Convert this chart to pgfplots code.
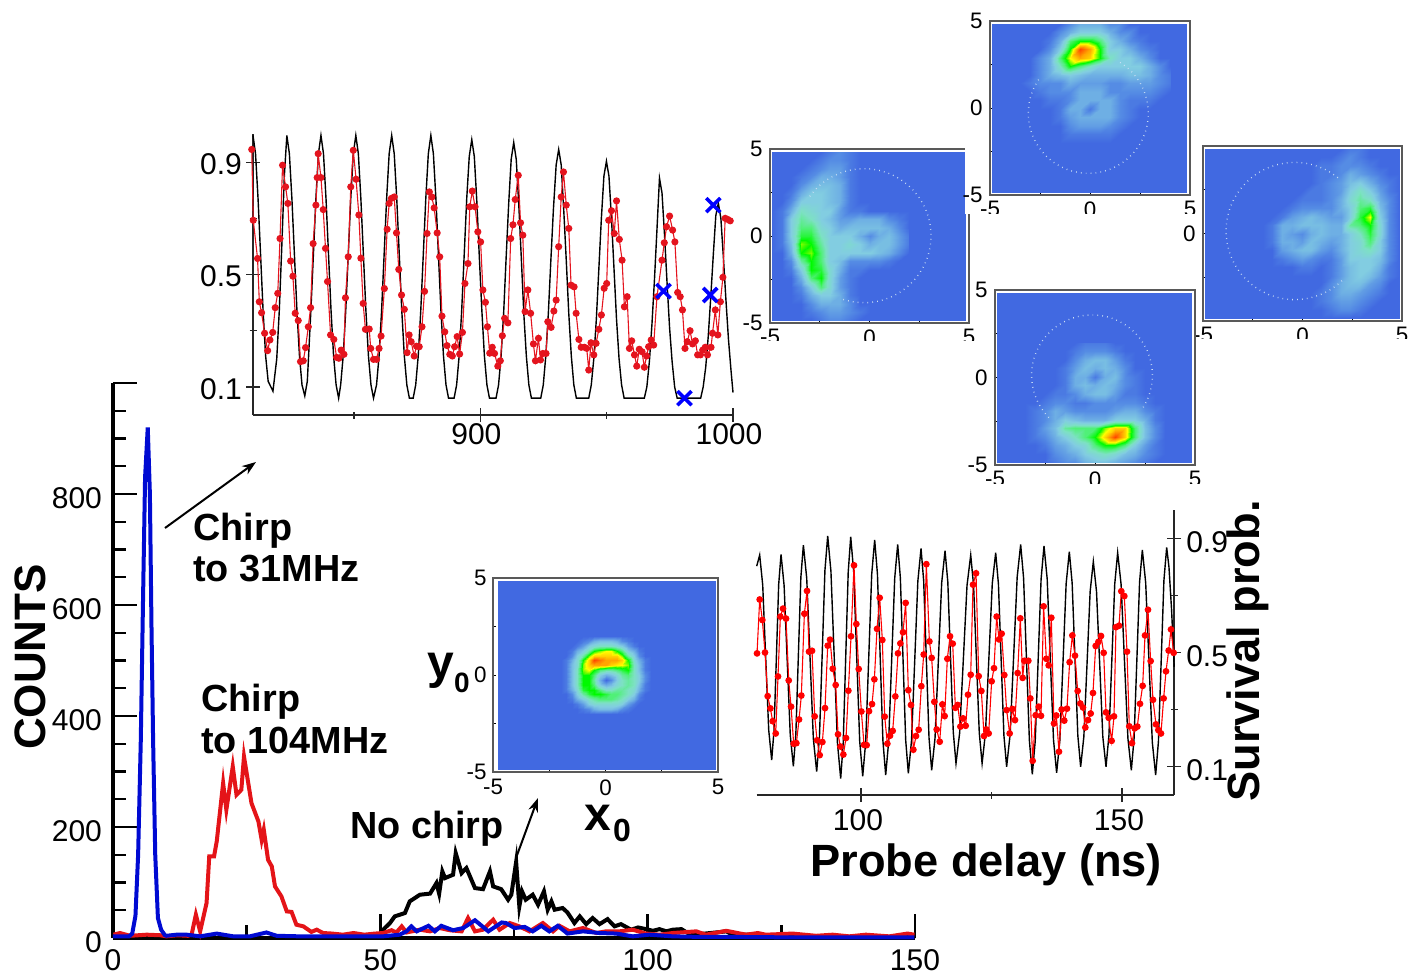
\documentclass[border=0pt]{standalone}
\usepackage{fontspec}
\setmainfont{Liberation Sans}
\usepackage{pgfplots}
\pgfplotsset{compat=1.18}
\usetikzlibrary{arrows.meta}
\definecolor{royal}{RGB}{65,105,225}
\definecolor{histred}{RGB}{228,20,24}
\definecolor{histblue}{RGB}{0,10,210}
\definecolor{dotred}{RGB}{228,20,30}
\definecolor{dotwhite}{RGB}{205,225,245}
\newcommand{\TXT}[4][]{\node[inner sep=0pt,#1] at (#2*0.5pt,-#3*0.5pt) {#4};}
\newcommand{\fs}[1]{\fontsize{#1}{#1}\selectfont}
\pgfplotsset{
  heatmap/.style={
    scale only axis, clip=true,
    xmin=-5,xmax=5,ymin=-5,ymax=5,
    xtick={-5,-2.5,0,2.5,5}, xticklabels={-5,,0,,5},
    ytick={-5,-2.5,0,2.5,5}, yticklabels={-5,,0,,5},
    xtick pos=left, ytick pos=left, tick align=inside,
    major tick length=1.6pt,
    tick style={black,line width=.4pt},
    axis line style={black!65,line width=.8pt},
    ticklabel style={font=\fs{11.2},inner sep=1.5pt},
    xticklabel style={yshift=-1.5pt},yticklabel style={xshift=-2pt},
    point meta min=0, point meta max=9,
    colormap={heat}{
      rgb255(0)=(65,105,225) rgb255(1)=(85,140,228) rgb255(2)=(110,175,228)
      rgb255(3)=(130,205,225) rgb255(4)=(125,225,195) rgb255(5)=(80,240,120)
      rgb255(6)=(0,250,0) rgb255(7)=(255,255,0) rgb255(8)=(255,165,0) rgb255(9)=(255,69,0)},
  },
  heatplot/.style={surf, shader=interp, point meta=explicit},
  linechart/.style={
    scale only axis, clip=false,
    tick style={black!85,line width=.6pt},
    tick align=inside,
    major tick length=7pt, minor tick length=3.5pt,
    ticklabel style={font=\fs{15}},
    ymin=0,ymax=1,
    ytick={0.1,0.5,0.9}, yticklabels={0.1,0.5,0.9}, minor ytick={0.3,0.7},
  },
  blackcurve/.style={black,line width=.7pt,no markers},
  redcurve/.style={dotred,line width=.55pt,mark=*,mark size=1.5pt,mark options={fill=dotred,draw=dotred}},
}
\begin{document}
\begin{tikzpicture}
\path[use as bounding box] (0,0) rectangle (712.5pt,-488pt);

%% ---------- main histogram ----------
\begin{axis}[at={(113*0.5pt,-938*0.5pt)},anchor=south west,scale only axis,clip=false,
  width=401pt,height=277.5pt,xmin=0,xmax=150,ymin=0,ymax=1000,
  axis x line=bottom,axis y line=left,
  axis line style={-,black,line width=1.75pt},
  tick style={black,line width=1.2pt},tick align=inside,
  major tick length=12pt,minor tick length=6.5pt,
  xtick={0,50,100,150},xticklabels={0,50,100,150},minor xtick={25,75,125},
  ytick={0,200,400,600,800,1000},yticklabels={0,200,400,600,800,},
  minor ytick={50,100,150,250,300,350,450,500,550,650,700,750,850,900,950},
  ticklabel style={font=\fs{15}},
  xticklabel style={yshift=-2pt},yticklabel style={xshift=-2pt,yshift=-2pt}]
\addplot[black,line width=2pt,no markers] coordinates {
(50,10)(51.8,27)(52.7,39)(54.6,45)(55.5,66)(57.4,78)(59.3,80)(60.5,99)(61,80)(61.6,120)(62.1,108)(63.6,114)(64.1,153)(65.2,117)(66.1,126)(67.7,90)(69.2,88)(70.5,120)(71.1,93)(72.6,88)(73.9,69)(74.5,78)(75.4,137)(76,57)(76.5,84)(77.2,69)(78.5,78)(79.5,60)(80.6,84)(81.3,51)(82,66)(82.6,51)(84.1,54)(85,46)(86.3,27)(87.3,39)(88.5,25)(89.7,36)(91,25)(92.5,34)(93.8,21)(95,25)(96.9,15)(98.2,19)(99.7,16)(101,13)(102.2,16)(103.5,12)(104.7,15)(106.3,16)(107.5,9)(109.7,7)(112.8,10)(114.7,12)(115.9,6)(119,6)(122.1,3)(130,2)(140,2)(150,2)};
\addplot[histred,line width=2pt,no markers] coordinates {
(0.1,6)(1.3,9)(3.2,4)(6.3,6)(8.8,5)(10,3)(12,5)(14,4)(14.7,6)(15.5,42)(16.3,12)(17.5,63)(18,147)(18.9,147)(19.4,174)(20.6,279)(21.2,231)(22.4,309)(23.1,258)(24,267)(24.5,327)(25.9,243)(27.2,210)(27.8,177)(28.2,195)(29,141)(29.7,129)(30.3,93)(31.5,75)(32.5,48)(33.4,47)(34.3,24)(35.6,21)(37.1,11)(38.1,15)(39.3,9)(41,8)(43,6)(45,9)(47,6)(49,8)(50.5,9)(52.1,14)(53,10)(54,21)(54.9,10)(57.4,15)(59.3,12)(61.1,18)(63,14)(65.2,12)(66.4,36)(67.7,12)(69.2,15)(71.1,33)(72.3,15)(74.2,27)(76,21)(77.9,12)(80.4,27)(82.3,12)(83.5,22)(85.4,12)(87.9,18)(90.4,9)(92.2,12)(94.7,12)(97.2,15)(99.7,8)(102.2,6)(104.7,9)(109.1,12)(110.9,6)(114.7,13)(118.4,6)(120.6,9)(122.1,6)(127.1,8)(131.5,4)(134.6,6)(137.7,3)(140.8,6)(145.2,3)(148.6,8)(149.9,6)};
\addplot[histblue,line width=2pt,no markers] coordinates {
(0,3)(1,3)(2,3)(3,3)(3.6,8)(4.2,40)(4.7,150)(5.2,357)(5.6,600)(6,830)(6.5,920)(6.9,800)(7.2,560)(7.5,357)(7.9,150)(8.4,36)(9,15)(9.7,5)(10,4)(11.9,6)(13.8,6)(16.3,3)(19.4,8)(22.5,3)(25.6,3)(28.7,10)(30.6,4)(35,3)(41.2,3)(47.4,3)(50.5,3)(53.6,6)(54.9,12)(55.8,21)(56.8,12)(59,22)(60.2,12)(61.4,22)(63.6,14)(65.5,18)(67.7,32)(70.2,12)(72.7,28)(73.5,27)(75.1,18)(77,20)(78.5,12)(80.1,22)(81.6,12)(83.2,22)(85,8)(87.9,12)(91,9)(94.1,8)(97.2,3)(100.3,6)(104.7,3)(109.7,2)(115.9,2)(128.4,1)(149.9,1)};
\end{axis}

%% ---------- upper line chart ----------
\begin{axis}[linechart,at={(253*0.5pt,-415*0.5pt)},anchor=south west,width=240pt,height=140.5pt,
  xmin=810,xmax=1000,axis x line=bottom,axis y line=left,
  axis line style={-,black!85,line width=.8pt},
  xtick={900,1000},xticklabels={900,1000},minor xtick={850,950},
  xticklabel style={xshift=-2pt,yshift=3pt},yticklabel style={xshift=1.5pt,yshift=-1pt}]
\addplot[blackcurve] coordinates {
(810,.995)(811,.93)(812,.77)(813,.57)(814,.37)(815,.21)(816,.12)(817.9,.085)(819.4,.2)(820.4,.37)(821.4,.6)(822.4,.85)(823.4,.995)
(824.4,.93)(825.4,.77)(826.4,.57)(827.4,.37)(828.4,.21)(829.4,.107)(830.5,.068)(831.5,.12)(832.9,.37)(833.9,.57)(834.9,.77)(835.9,.93)(836.9,.995)
(837.9,.93)(838.9,.77)(839.9,.57)(840.9,.37)(841.9,.21)(842.9,.107)(843.9,.06)(844.7,.107)(845.7,.21)(846.7,.37)(847.7,.57)(848.7,.77)(849.7,.93)(850.7,.995)
(851.7,.93)(852.7,.77)(853.7,.57)(854.7,.37)(855.7,.21)(856.7,.107)(857.7,.06)(858.9,.107)(859.9,.21)(860.9,.37)(861.9,.57)(862.9,.77)(863.9,.93)(864.9,.995)
(865.9,.93)(866.9,.77)(867.9,.57)(868.9,.37)(869.9,.21)(870.9,.107)(871.9,.06)(873.4,.06)(874.4,.107)(875.4,.21)(876.4,.37)(877.4,.57)(878.4,.77)(879.4,.93)(880.4,.995)
(881.4,.93)(882.4,.77)(883.4,.57)(884.4,.37)(885.4,.21)(886.4,.107)(887.4,.06)(889.6,.06)(890.6,.107)(891.6,.21)(892.6,.37)(893.6,.57)(894.6,.77)(895.6,.92)(896.6,.98)
(897.6,.92)(898.6,.76)(899.6,.56)(900.6,.37)(901.6,.21)(902.6,.107)(903.6,.06)(906.2,.06)(907.2,.107)(908.2,.21)(909.2,.36)(910.2,.56)(911.2,.75)(912.2,.91)(913.2,.97)
(914.2,.91)(915.2,.75)(916.2,.56)(917.2,.36)(918.2,.21)(919.2,.107)(920.2,.06)(923.9,.06)(924.9,.107)(925.9,.21)(926.9,.36)(927.9,.55)(928.9,.73)(930,.89)(931,.945)
(932,.89)(933,.73)(934,.55)(935,.36)(936,.21)(937,.107)(938,.06)(942.9,.06)(943.9,.107)(944.9,.2)(945.9,.34)(946.9,.52)(947.9,.7)(948.9,.85)(949.9,.903)
(950.9,.85)(951.9,.7)(952.9,.52)(953.9,.34)(954.9,.2)(955.9,.107)(956.9,.06)(964.9,.06)(965.9,.1)(966.9,.19)(967.9,.32)(968.9,.48)(969.9,.66)(970.9,.843)
(971.9,.79)(972.9,.64)(973.9,.47)(974.9,.31)(975.9,.19)(976.9,.1)(977.9,.06)(987.2,.06)(988.2,.1)(989.2,.17)(990.2,.28)(991.2,.42)(992.2,.57)(993.2,.71)(994.2,.754)
(995.2,.7)(996.2,.56)(997.2,.41)(998.2,.27)(999.2,.16)(1000,.08)};
\addplot[redcurve] coordinates {
(809.5,.945)(810.1,.693)(811.8,.557)(812.5,.403)(813.4,.364)(814.6,.291)(815.8,.229)(816.7,.267)(817.8,.294)(818.8,.382)(819.8,.433)(820.7,.628)(821.7,.889)(822.9,.812)(823.8,.753)(824.9,.548)(825.8,.494)(826.7,.362)(827.9,.336)(828.8,.19)(829.9,.193)(830.8,.24)(831.9,.314)(832.8,.382)(833.8,.61)(834.9,.747)(835.4,.845)(835.8,.93)(836.9,.845)(837.8,.731)(838.7,.593)(839.5,.475)(840.7,.285)(842,.269)(843.1,.205)(844,.202)(844.9,.231)(846,.216)(846.6,.417)(847.7,.563)(848.7,.812)(849.7,.942)(850.8,.839)(851.9,.712)(852.7,.558)(853.6,.397)(854.5,.305)(856,.306)(856.6,.237)(857.7,.198)(858.9,.198)(859.9,.237)(860.7,.281)(862,.45)(863.1,.661)(863.9,.753)(864.8,.771)(865.9,.776)(866.8,.648)(867.7,.518)(868.8,.427)(869.9,.376)(871,.222)(871.8,.285)(872.6,.261)(873.8,.21)(874.7,.245)(875.8,.243)(876.9,.314)(877.9,.44)(878.9,.646)(879.8,.794)(880.8,.776)(881.7,.737)(882.9,.648)(883.9,.563)(884.8,.352)(885.9,.296)(886.8,.247)(887.9,.216)(888.9,.21)(889.8,.243)(890.8,.279)(891.8,.217)(892.9,.294)(893.9,.468)(895.1,.539)(895.8,.741)(896.8,.797)(897.9,.741)(899,.652)(900.1,.616)(901,.445)(902,.401)(902.8,.314)(903.7,.22)
(904.7,.241)(905.6,.219)(906.9,.174)(907.9,.193)(908.7,.282)(909.6,.344)(910.9,.328)(912,.628)(912.9,.677)(913.8,.767)(915,.853)(915.9,.684)(916.8,.64)(917.7,.368)(918.8,.445)(919.9,.362)(921,.253)(921.8,.193)(923,.273)(923.8,.196)(924.7,.219)(926,.219)(926.7,.332)(928,.312)(929.1,.37)(930,.409)(931,.599)(932,.776)(932.9,.865)(934,.747)(935,.664)(935.9,.462)(937.1,.456)(937.9,.362)(939,.269)(939.9,.241)(941.2,.241)(942.1,.237)(942.9,.16)(943.8,.257)(944.9,.214)(945.8,.255)(946.9,.305)(947.9,.356)(949,.451)(950,.468)(950.8,.693)(951.9,.727)(953,.646)(953.9,.762)(955,.625)(956.1,.551)(957,.385)(958.1,.421)(959,.237)(959.9,.264)(961,.214)(961.9,.174)(962.9,.234)(964,.225)(964.9,.17)(965.8,.21)(966.6,.243)(967.6,.267)(968.6,.249)(969.9,.421)(971.9,.551)(972.8,.613)(973.7,.67)(974.9,.708)(976.1,.658)(977,.616)(978.1,.436)(979.1,.421)(980,.374)(981,.237)(981.9,.261)(983,.3)(984,.253)(985.1,.264)(986,.214)(987.1,.214)(988,.231)(989,.241)(989.9,.214)(991.3,.241)(991.9,.291)(993,.374)(994,.285)(995,.403)(996,.49)(996.9,.7)(997.9,.696)(998.9,.691)};
\addplot[only marks,mark=x,mark size=5pt,color=blue,mark options={line width=1.8pt}] coordinates {(992.2,.747)(972.5,.441)(991,.427)(980.8,.06)};
\end{axis}

%% ---------- lower line chart ----------
\begin{axis}[linechart,at={(756.6*0.5pt,-795*0.5pt)},anchor=south west,width=208.8pt,height=142.5pt,
  xmin=80,xmax=160,axis x line=bottom,axis y line=right,
  axis line style={-,black!85,line width=.8pt},
  xtick={100,150},xticklabels={100,150},minor xtick={125},
  xticklabel style={xshift=-1.5pt},yticklabel style={xshift=-1pt,yshift=-2pt}]
\addplot[blackcurve] coordinates {
(80.02,.803)(80.59,.842)(81.17,.737)(81.74,.482)(82.32,.228)(82.89,.1225)(83.34,.228)(83.79,.483)(84.23,.739)(84.68,.844)(85.27,.735)(85.86,.4725)(86.45,.21)(87.04,.101)(87.52,.214)(88,.489)(88.48,.764)(88.96,.877)(89.6,.761)(90.24,.48)(90.87,.198)(91.51,.082)(92.04,.203)(92.57,.496)(93.09,.788)(93.62,.909)(94.24,.785)(94.87,.484)(95.49,.182)(96.11,.058)(96.59,.182)(97.07,.482)(97.55,.782)(98.03,.906)(98.6,.783)(99.18,.486)(99.75,.189)(100.33,.066)(100.9,.187)(101.48,.48)(102.05,.774)(102.62,.895)(103.15,.775)(103.68,.482)(104.2,.19)(104.73,.07)(105.3,.188)(105.88,.475)(106.46,.761)(107.03,.879)(107.54,.762)(108.05,.478)(108.56,.193)(109.07,.076)(109.68,.191)(110.29,.47)(110.89,.75)(111.5,.865)(112.01,.751)(112.52,.476)(113.03,.201)(113.54,.087)(114.18,.199)(114.82,.472)(115.46,.745)(116.1,.857)(116.63,.748)(117.15,.484)(117.68,.22)(118.2,.111)(118.9,.218)(119.61,.477)(120.31,.735)(121.02,.842)(121.57,.735)(122.11,.477)(122.66,.218)(123.2,.111)(123.85,.219)(124.5,.48)(125.15,.742)(125.8,.85)(126.33,.74)(126.85,.475)(127.38,.209)(127.9,.099)(128.57,.213)(129.25,.489)(129.92,.765)(130.59,.879)(131.15,.761)(131.7,.476)(132.26,.191)(132.82,.073)(133.38,.19)(133.94,.474)(134.5,.757)(135.06,.874)(135.67,.758)(136.27,.476)(136.88,.194)(137.48,.078)(138.09,.191)(138.7,.466)(139.3,.741)(139.91,.854)(140.45,.744)(141,.477)(141.54,.209)(142.08,.099)(142.69,.204)(143.3,.459)(143.9,.714)(144.51,.819)(145.12,.714)(145.73,.459)(146.33,.204)(146.94,.099)(147.5,.209)(148.06,.475)(148.61,.74)(149.17,.85)(149.83,.739)(150.48,.469)(151.14,.198)(151.79,.087)(152.32,.2)(152.85,.474)(153.37,.747)(153.9,.86)(154.54,.745)(155.18,.465)(155.81,.185)(156.45,.07)(156.98,.187)(157.51,.47)(158.03,.752)(158.56,.869)(159,.8)(159.5,.65)(160,.45)};
\addplot[redcurve,mark size=1.4pt,color=red,mark options={fill=red,draw=red}] coordinates {
(80.08,.497)(80.59,.686)(81.1,.614)(81.61,.5)(82.12,.347)(82.64,.304)(83.08,.259)(83.66,.216)(84.1,.416)(84.55,.626)(85.06,.654)(85.64,.619)(86.15,.402)(86.6,.31)(87.1,.18)(87.62,.182)(88.13,.265)(88.57,.349)(89.15,.636)(89.66,.716)(90.04,.503)(90.62,.506)(91.13,.276)(91.58,.192)(92.09,.14)(92.6,.186)(93.11,.305)(93.62,.524)(94.07,.545)(94.58,.443)(95.15,.386)(95.6,.213)(96.05,.17)(96.62,.142)(97.13,.2)(97.58,.366)(98.09,.557)(98.66,.806)(99.11,.6)(99.56,.442)(100.07,.293)(100.58,.176)(101.09,.175)(101.54,.294)(102.11,.319)(102.56,.406)(103.07,.583)(103.58,.692)(104.09,.544)(104.54,.275)(105.05,.18)(105.56,.208)(106.07,.225)(106.58,.346)(107.09,.497)(107.54,.532)(108.05,.571)(108.56,.674)(109.07,.368)(109.58,.316)(110.03,.159)(110.54,.207)(111.05,.229)(111.56,.382)(112.01,.493)(112.52,.81)(113.1,.539)(113.54,.481)(114.05,.327)(114.5,.23)(115.08,.187)(115.59,.318)(116.03,.277)(116.54,.478)(117.06,.557)(117.57,.531)(118.08,.306)(118.52,.316)(119.04,.24)(119.55,.269)(120.06,.243)(120.5,.352)(121.02,.422)(121.46,.738)(122.04,.778)(122.55,.417)(123.06,.365)(123.57,.207)(124.02,.23)(124.46,.216)
(125.03,.399)(125.48,.445)(125.99,.626)(126.44,.546)(126.95,.566)(127.46,.421)(127.9,.298)(128.48,.216)(128.99,.302)(129.5,.263)(130.01,.428)(130.52,.62)(130.97,.411)(131.29,.471)(132.06,.471)(132.44,.339)(132.89,.12)(133.46,.28)(134.04,.31)(134.48,.278)(134.99,.662)(135.5,.478)(135.95,.455)(136.46,.622)(136.97,.251)(137.42,.279)(137.93,.152)(138.44,.3)(138.95,.261)(139.46,.303)(139.97,.466)(140.49,.56)(141,.489)(141.51,.365)(142.02,.321)(142.53,.307)(142.98,.237)(143.49,.263)(144,.286)(144.44,.358)(144.96,.523)(145.47,.537)(145.98,.558)(146.49,.499)(146.94,.29)(147.45,.271)(148.02,.19)(148.47,.276)(148.85,.589)(149.43,.594)(149.87,.715)(150.45,.698)(150.96,.503)(151.4,.241)(151.92,.182)(152.43,.234)(152.94,.24)(153.45,.32)(153.96,.383)(154.41,.56)(154.98,.65)(155.49,.47)(155.94,.334)(156.51,.248)(156.96,.228)(157.47,.216)(157.98,.339)(158.43,.434)(158.94,.507)(159.39,.581)(159.9,.499)};
\end{axis}

%% ---------- map B (left) ----------
\begin{axis}[heatmap,at={(770*0.5pt,-323*0.5pt)},anchor=south west,width=99.5pt,height=87pt]
\fill[royal] (axis cs:-4.9,-4.9) rectangle (axis cs:4.85,4.85);
\addplot[heatplot,mesh/cols=15] table[header=false,row sep=crcr,meta index=0,
  x expr={-4.9+0.49*mod(\coordindex,15)},y expr={4.85-0.485*floor(\coordindex/15)}] {
0\\0\\0\\0\\0\\0\\.5\\1\\.5\\0\\0\\0\\0\\0\\0\\
0\\0\\0\\0\\0\\.5\\1\\1\\.5\\0\\0\\0\\0\\0\\0\\
0\\0\\0\\0\\.5\\1\\1.5\\1.5\\.5\\0\\0\\0\\0\\0\\0\\
0\\0\\0\\.5\\1\\2\\2\\1.5\\.5\\0\\0\\0\\0\\0\\0\\
0\\0\\0\\1\\2\\2.5\\2.5\\2\\.5\\0\\0\\0\\0\\0\\0\\
0\\0\\.5\\2\\3\\3\\2.5\\2\\.5\\0\\0\\0\\0\\0\\0\\
0\\0\\1\\3\\3\\3\\2.5\\2\\.5\\0\\0\\0\\0\\0\\0\\
0\\.5\\2\\4\\3.5\\3\\3\\1.5\\.5\\.5\\0\\0\\0\\0\\0\\
0\\.5\\3\\4.5\\4\\3\\2.5\\1.5\\1.5\\2\\2\\2\\1\\.5\\0\\
0\\.5\\3\\5\\5\\3.5\\3\\2\\2.5\\2.5\\2.5\\2.5\\2\\1\\0\\
0\\.5\\3\\5.5\\5.5\\4\\3\\3\\3\\2\\1\\2\\2.5\\1.5\\.5\\
0\\.5\\2.5\\6.5\\6\\4.5\\3\\3\\3.5\\3\\2\\2.5\\2.5\\1.5\\.5\\
0\\0\\2\\6\\6.5\\5\\3\\3\\3\\3\\3\\2.5\\2\\1\\0\\
0\\0\\1\\4.5\\6\\5\\3\\2.5\\1\\1\\1\\1\\.5\\0\\0\\
0\\0\\.5\\3\\6\\5.5\\3.5\\2\\.5\\.5\\0\\0\\0\\0\\0\\
0\\0\\0\\2\\5\\6\\3.5\\1.5\\.5\\0\\0\\0\\0\\0\\0\\
0\\0\\0\\1\\3\\5\\3.5\\1.5\\.5\\0\\0\\0\\0\\0\\0\\
0\\0\\0\\.5\\2\\3\\3\\2\\.5\\0\\0\\0\\0\\0\\0\\
0\\0\\0\\0\\1\\2\\2\\2\\1\\0\\0\\0\\0\\0\\0\\
0\\0\\0\\0\\.5\\1\\1.5\\1.5\\1\\.5\\0\\0\\0\\0\\0\\
0\\0\\0\\0\\0\\.5\\1\\1\\.5\\0\\0\\0\\0\\0\\0\\
};
\end{axis}
\draw[dotwhite,line width=.7pt,dash pattern=on .35pt off 2.1pt] (864*0.5pt,-235.7*0.5pt) ++(144:33.5pt) arc[start angle=144,end angle=-108,radius=33.5pt];
\fill[white] (965*0.5pt,-144*0.5pt) rectangle (988*0.5pt,-214*0.5pt);
\fill[white] (760*0.5pt,-341*0.5pt) rectangle (985*0.5pt,-350*0.5pt);

%% ---------- map A (top) ----------
\begin{axis}[heatmap,at={(990*0.5pt,-195*0.5pt)},anchor=south west,width=100pt,height=87pt]
\fill[royal] (axis cs:-4.9,-4.9) rectangle (axis cs:4.85,4.85);
\addplot[heatplot,mesh/cols=16] table[header=false,row sep=crcr,meta index=0,
  x expr={-3.5+0.5*mod(\coordindex,16)},y expr={4.85-0.49*floor(\coordindex/16)}] {
0\\0\\0\\0\\0\\1\\2\\2\\2\\1\\1\\0\\0\\0\\0\\0\\
0\\0\\0\\0\\1\\2\\3\\3\\3\\2\\1\\1\\0\\0\\0\\0\\
0\\0\\0\\.5\\2\\5\\6\\6\\5\\3\\2\\1\\.5\\0\\0\\0\\
0\\0\\0\\1\\3\\6\\9\\8\\6\\3\\3\\2\\1\\.5\\0\\0\\
0\\0\\1\\2\\5\\7\\8\\7.5\\6\\4\\3\\3\\2\\1\\0\\0\\
0\\0\\1\\2\\4\\6\\5\\4\\3\\3\\3\\3\\3\\2\\1\\0\\
0\\0\\1\\2\\2.5\\3\\2.5\\2\\2\\2\\2\\2.5\\2.5\\2\\1\\.5\\
0\\.5\\1\\1\\1\\2\\1.5\\1.5\\1.5\\1\\1\\1.5\\1.5\\1.5\\1\\.5\\
0\\0\\.5\\1\\1\\1\\2\\2\\2\\1\\1\\1\\1\\1\\.5\\0\\
0\\0\\0\\.5\\.5\\1\\2\\2\\2\\2\\1\\.5\\.5\\.5\\0\\0\\
0\\0\\0\\0\\.5\\2\\2\\.5\\2\\2\\1\\.5\\0\\0\\0\\0\\
0\\0\\0\\0\\.5\\1.5\\2\\2\\2\\2\\1\\.5\\0\\0\\0\\0\\
0\\0\\0\\0\\0\\1\\1.5\\1.5\\1.5\\1\\.5\\0\\0\\0\\0\\0\\
0\\0\\0\\0\\0\\.5\\.5\\.5\\.5\\.5\\0\\0\\0\\0\\0\\0\\
0\\0\\0\\0\\0\\0\\0\\0\\0\\0\\0\\0\\0\\0\\0\\0\\
};
\end{axis}
\draw[dotwhite,line width=.7pt,dash pattern=on .35pt off 2.1pt] (1088.3*0.5pt,-113.3*0.5pt) ++(58:30pt) arc[start angle=58,end angle=-215,radius=30pt];
\fill[white] (972*0.5pt,-214*0.5pt) rectangle (1198*0.5pt,-222*0.5pt);

%% ---------- map C (right) ----------
\begin{axis}[heatmap,at={(1203*0.5pt,-321*0.5pt)},anchor=south west,width=99.5pt,height=87.5pt,yticklabels={,,0,,}]
\fill[royal] (axis cs:-4.9,-4.9) rectangle (axis cs:4.85,4.85);
\addplot[heatplot,mesh/cols=15] table[header=false,row sep=crcr,meta index=0,
  x expr={-2+0.49*mod(\coordindex,15)},y expr={4.85-0.485*floor(\coordindex/15)}] {
0\\0\\0\\0\\0\\0\\0\\0\\0\\.5\\.5\\0\\0\\0\\0\\
0\\0\\0\\0\\0\\0\\0\\0\\.5\\1\\.5\\0\\0\\0\\0\\
0\\0\\0\\0\\0\\0\\.5\\.5\\1\\1\\1\\.5\\0\\0\\0\\
0\\0\\0\\0\\0\\0\\.5\\.5\\1\\2\\1.5\\1\\.5\\0\\0\\
0\\0\\0\\0\\0\\0\\.5\\1\\1.5\\2.5\\3\\2\\1\\.5\\0\\
0\\0\\0\\0\\0\\.5\\.5\\1\\1.5\\3\\4\\3\\1.5\\.5\\0\\
0\\0\\0\\0\\.5\\.5\\.5\\1\\2\\3.5\\4.5\\4\\2\\1\\0\\
0\\0\\0\\.5\\1\\1\\1\\1\\2\\3\\5\\5.5\\2.5\\1\\0\\
0\\0\\.5\\1.5\\2\\2.5\\2\\1.5\\1.5\\3\\5.5\\7\\3\\1\\0\\
0\\.5\\2\\2\\2.5\\2.5\\2.5\\2\\2\\4.5\\5\\6\\3.5\\1\\0\\
0\\.5\\2\\1.5\\1\\2\\2.5\\2\\2\\3\\4\\5.5\\3.5\\1\\0\\
0\\.5\\2\\2\\1.5\\2.5\\2\\1.5\\2\\3\\3.5\\5\\3\\1\\0\\
0\\0\\1.5\\2\\2.5\\2.5\\1.5\\1\\2\\3\\3.5\\4\\3\\1\\0\\
0\\0\\.5\\1\\1.5\\1\\.5\\.5\\1.5\\3\\3\\3\\2.5\\1\\0\\
0\\0\\0\\0\\.5\\.5\\0\\.5\\1.5\\2.5\\3\\3\\2\\.5\\0\\
0\\0\\0\\0\\0\\0\\0\\.5\\1.5\\2.5\\3\\2.5\\1.5\\.5\\0\\
0\\0\\0\\0\\0\\0\\0\\1\\2\\2.5\\2.5\\1.5\\1\\0\\0\\
0\\0\\0\\0\\0\\0\\.5\\1\\2\\2\\1.5\\1\\.5\\0\\0\\
0\\0\\0\\0\\0\\0\\.5\\1\\1.5\\1.5\\1\\.5\\0\\0\\0\\
0\\0\\0\\0\\0\\0\\0\\.5\\1\\1\\.5\\0\\0\\0\\0\\
0\\0\\0\\0\\0\\0\\0\\0\\0\\0\\0\\0\\0\\0\\0\\
};
\end{axis}
\draw[dotwhite,line width=.7pt,dash pattern=on .35pt off 2.1pt] (1294.7*0.5pt,-231*0.5pt) ++(51:34.3pt) arc[start angle=51,end angle=315,radius=34.3pt];
\fill[white] (1195*0.5pt,-339*0.5pt) rectangle (1425*0.5pt,-348*0.5pt);

%% ---------- map D (bottom) ----------
\begin{axis}[heatmap,at={(995*0.5pt,-465*0.5pt)},anchor=south west,width=100pt,height=87.5pt]
\fill[royal] (axis cs:-4.9,-4.9) rectangle (axis cs:4.85,4.85);
\addplot[heatplot,mesh/cols=15] table[header=false,row sep=crcr,meta index=0,
  x expr={-3.5+0.5*mod(\coordindex,15)},y expr={2-0.49*floor(\coordindex/15)}] {
0\\0\\0\\0\\0\\0\\.5\\.5\\.5\\0\\0\\0\\0\\0\\0\\
0\\0\\0\\0\\0\\.5\\1\\1\\1\\.5\\0\\0\\0\\0\\0\\
0\\0\\0\\0\\0\\1\\2\\2.5\\2.5\\1.5\\.5\\0\\0\\0\\0\\
0\\0\\0\\0\\.5\\1.5\\2.5\\2\\2.5\\2\\1\\0\\0\\0\\0\\
0\\0\\0\\0\\.5\\2\\2\\.5\\2\\2.5\\1\\.5\\0\\0\\0\\
0\\0\\0\\0\\.5\\2\\2.5\\2\\2.5\\2\\1\\.5\\0\\0\\0\\
0\\0\\0\\.5\\.5\\1\\2\\2.5\\2.5\\1.5\\.5\\.5\\0\\0\\0\\
0\\0\\.5\\1\\1\\.5\\.5\\1\\1\\1\\1\\1\\.5\\0\\0\\
0\\.5\\1\\2\\1.5\\1\\1\\1\\1\\1.5\\2\\2\\1\\.5\\0\\
0\\.5\\1\\2\\3\\2.5\\2\\2\\2\\3\\3\\3\\2\\.5\\0\\
0\\.5\\1.5\\2.5\\4.5\\5\\5\\5\\6.5\\7.5\\7.5\\5\\2.5\\1\\0\\
0\\.5\\1\\2\\3\\4\\5\\6\\7.5\\9\\7.5\\5\\2.5\\1\\0\\
0\\0\\.5\\1.5\\2\\3\\3.5\\5\\6\\6\\5\\3\\1.5\\.5\\0\\
0\\0\\0\\1\\1.5\\2\\3\\3.5\\4\\3.5\\2.5\\2\\1\\.5\\0\\
0\\0\\0\\.5\\1\\1\\2\\2.5\\2.5\\2\\1.5\\1\\.5\\0\\0\\
};
\end{axis}
\draw[dotwhite,line width=.7pt,dash pattern=on .35pt off 2.1pt] (1092*0.5pt,-375.3*0.5pt) ++(-32:30.2pt) arc[start angle=-32,end angle=227,radius=30.2pt];
\fill[white] (985*0.5pt,-484*0.5pt) rectangle (1205*0.5pt,-492*0.5pt);

%% ---------- map E (central) ----------
\begin{axis}[heatmap,at={(493*0.5pt,-772*0.5pt)},anchor=south west,width=112.5pt,height=97pt,xticklabel style={yshift=-0.5pt},yticklabel style={xshift=0.5pt}]
\fill[royal] (axis cs:-4.8,-4.9) rectangle (axis cs:4.9,4.85);
\addplot[heatplot,mesh/cols=17] table[header=false,row sep=crcr,meta index=0,
  x expr={-2+0.25*mod(\coordindex,17)},y expr={2-0.25*floor(\coordindex/17)}] {
0\\0\\0\\0\\0\\0\\0\\0\\0\\0\\0\\0\\0\\0\\0\\0\\0\\
0\\0\\0\\0\\.5\\1\\2\\2.5\\2.5\\2.5\\2\\1\\.5\\0\\0\\0\\0\\
0\\0\\0\\.5\\1.5\\3\\3.5\\4\\4\\4\\3.5\\3\\1.5\\.5\\0\\0\\0\\
0\\0\\.5\\2\\3\\4.5\\6\\6.5\\7\\7\\6\\5\\3\\2\\.5\\0\\0\\
0\\0\\1\\3\\4.5\\6.5\\7.5\\7.5\\7.5\\7.5\\7.5\\6.5\\4.5\\3\\1\\0\\0\\
0\\.5\\2\\3.5\\6\\7.5\\9\\8.5\\8\\8\\8\\7.5\\6\\3.5\\2\\.5\\0\\
0\\.5\\2.5\\3.5\\6.5\\7.5\\8\\8\\8\\7.5\\7.2\\7\\6.5\\4\\2.5\\.5\\0\\
0\\.5\\2.5\\4\\6.5\\7\\6\\5\\4.5\\4.5\\5\\5.5\\6\\4\\2.5\\.5\\0\\
0\\.5\\2.5\\4\\6\\6\\5\\3\\2\\2.5\\3.5\\4.5\\5\\4\\3\\1\\0\\
0\\.5\\2.5\\4\\6\\6\\4.5\\2\\0\\1\\3\\4\\4.5\\4\\3\\1\\0\\
0\\.5\\2.5\\4\\6\\6\\5\\3\\2\\2.5\\3.5\\4\\4.5\\4\\2.5\\.5\\0\\
0\\.5\\2\\3.5\\5.5\\6\\6\\5\\4\\4\\4.5\\4.5\\4\\3.5\\2\\.5\\0\\
0\\0\\1\\3\\4.5\\5.5\\6\\6\\5.5\\5\\5\\4.5\\4\\3\\1\\0\\0\\
0\\0\\.5\\2\\3\\4\\4.5\\5\\5\\5\\4.5\\4\\3\\2\\.5\\0\\0\\
0\\0\\0\\.5\\1.5\\3\\3.5\\3.5\\3.5\\3.5\\3.5\\3\\1.5\\.5\\0\\0\\0\\
0\\0\\0\\0\\.5\\1\\2\\2.5\\2.5\\2.5\\2\\1\\.5\\0\\0\\0\\0\\
0\\0\\0\\0\\0\\0\\0\\0\\0\\0\\0\\0\\0\\0\\0\\0\\0\\
};
\end{axis}

%% ---------- annotations ----------
\draw[black,line width=1pt,-{Stealth[length=7pt,width=5pt]}] (165*0.5pt,-528*0.5pt) -- (256*0.5pt,-462*0.5pt);
\draw[black,line width=1pt,-{Stealth[length=7pt,width=5pt]}] (516*0.5pt,-858*0.5pt) -- (538*0.5pt,-798*0.5pt);
\TXT[anchor=west]{193}{531}{\bfseries\fs{18.9}Chirp}
\TXT[anchor=west]{193}{569}{\bfseries\fs{18.9}to 31MHz}
\TXT[anchor=west]{201}{702}{\bfseries\fs{18.9}Chirp}
\TXT[anchor=west]{201}{740}{\bfseries\fs{18.9}to 104MHz}
\TXT[anchor=west]{350}{829}{\bfseries\fs{18.9}No chirp}
\TXT[rotate=90]{30}{657}{\bfseries\fs{22}COUNTS}
\TXT[anchor=west]{810}{865}{\bfseries\fs{22.6}Probe delay (ns)}
\TXT[rotate=90]{1248}{651}{\bfseries\fs{22.6}Survival prob.}
\TXT{441}{671}{\bfseries\fs{24}y}
\TXT{462}{683}{\bfseries\fs{14}0}
\TXT{598}{818}{\bfseries\fs{24}x}
\TXT{622}{830}{\bfseries\fs{16}0}
\end{tikzpicture}
\end{document}
